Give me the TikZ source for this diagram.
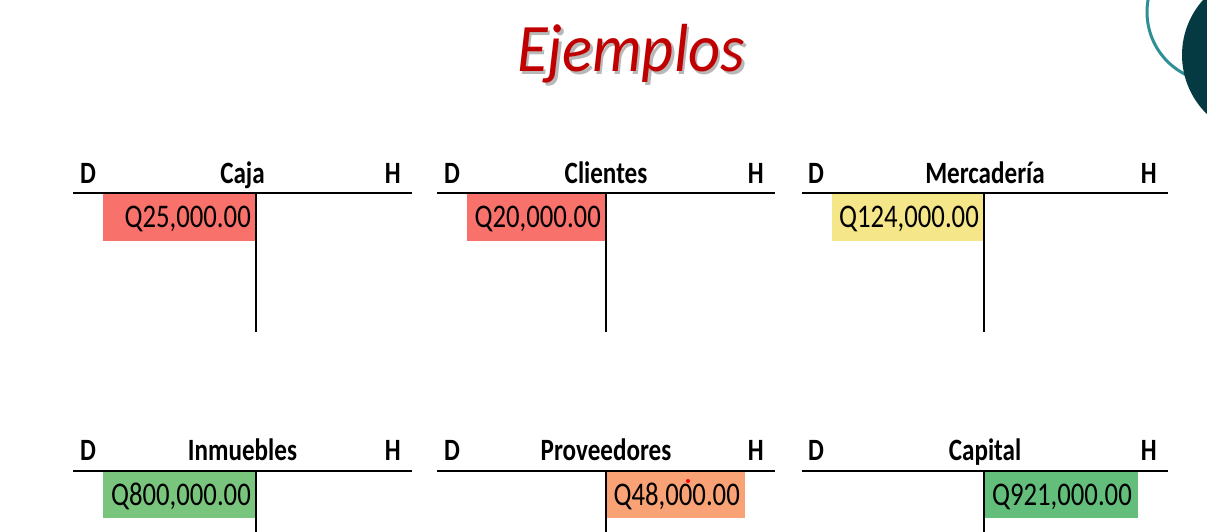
\documentclass[tikz,border=0pt]{standalone}
\usepackage{fontspec}
\setmainfont{Carlito}
% narrow Calibri-like faces for the ledger headings, amounts and title
\newfontfamily\headfont[FakeStretch=0.81]{Carlito}
\newfontfamily\amountfont[FakeStretch=0.81]{Carlito}
\newfontfamily\titlefont[FakeStretch=0.92]{Carlito}
\definecolor{titlered}{HTML}{C00000}
\definecolor{salmon}{HTML}{F8716B}
\definecolor{paleyellow}{HTML}{F6E68A}
\definecolor{softgreen}{HTML}{7AC57D}
\definecolor{midgreen}{HTML}{63BE7B}
\definecolor{peach}{HTML}{F8A276}
\definecolor{ringteal}{HTML}{2E8F96}
\definecolor{deepteal}{HTML}{053A42}
\definecolor{shadowgray}{HTML}{B8B8B8}
\begin{document}
\begin{tikzpicture}[x=1pt,y=-1pt,
  tline/.style={line width=2pt, black},
  hdr/.style={font=\headfont\bfseries\fontsize{31}{31}\selectfont, inner sep=0pt},
  amount/.style={font=\amountfont\fontsize{33}{33}\selectfont, inner sep=0pt, anchor=base east},
  debit/.style={hdr, anchor=base west},
  credit/.style={hdr, anchor=base east},
  acct/.style={hdr, anchor=base}]
\useasboundingbox (0,0) rectangle (1207,532);

% decorative circles in the upper right corner
\begin{scope}
  \clip (0,0) rectangle (1207,532);
  \draw[ringteal, line width=3pt] (1217,12) circle[radius=70];
  \fill[deepteal] (1264.5,55) circle[radius=82.5];
\end{scope}

% title, its drop shadow set behind it in the same box
\node[font=\titlefont\itshape\fontsize{68}{68}\selectfont, text=titlered, anchor=base, inner sep=0pt] (title) at (631,72)
  {\makebox[0pt][l]{\hspace{2.5pt}\raisebox{-3pt}{\textcolor{shadowgray}{Ejemplos}}}Ejemplos};

% ---------- first row ----------
% Caja
\fill[salmon] (103,194) rectangle (256,241);
\coordinate (cajaL) at (73,193); \coordinate (cajaR) at (412,193);
\coordinate (cajaT) at (256,193); \coordinate (cajaB) at (256,332);
\draw[tline] (cajaL) -- (cajaR); \draw[tline] (cajaT) -- (cajaB);
\node[debit] (cajaD) at (80,183) {D};
\node[acct] (caja) at (242.5,183) {Caja};
\node[credit] (cajaH) at (401,183) {H};
\node[amount] (cajaval) at (251,227) {Q25,000.00};

% Clientes
\fill[salmon] (467,194) rectangle (606,241);
\coordinate (cliL) at (437,193); \coordinate (cliR) at (775,193);
\coordinate (cliT) at (606,193); \coordinate (cliB) at (606,332);
\draw[tline] (cliL) -- (cliR); \draw[tline] (cliT) -- (cliB);
\node[debit] (cliD) at (444,183) {D};
\node[acct] (clientes) at (606,183) {Clientes};
\node[credit] (cliH) at (764,183) {H};
\node[amount] (clival) at (601,227) {Q20,000.00};

% Mercadería
\fill[paleyellow] (832,194) rectangle (984,241);
\coordinate (merL) at (802,193); \coordinate (merR) at (1168,193);
\coordinate (merT) at (984,193); \coordinate (merB) at (984,332);
\draw[tline] (merL) -- (merR); \draw[tline] (merT) -- (merB);
\node[debit] (merD) at (808,183) {D};
\node[acct] (mercaderia) at (985,183) {Mercadería};
\node[credit] (merH) at (1157,183) {H};
\node[amount] (merval) at (979,227) {Q124,000.00};

% ---------- second row ----------
% Inmuebles
\fill[softgreen] (103,472) rectangle (256,518);
\coordinate (inmL) at (73,471); \coordinate (inmR) at (412,471);
\coordinate (inmT) at (256,471); \coordinate (inmB) at (256,532);
\draw[tline] (inmL) -- (inmR); \draw[tline] (inmT) -- (inmB);
\node[debit] (inmD) at (80,460) {D};
\node[acct] (inmuebles) at (242.5,460) {Inmuebles};
\node[credit] (inmH) at (401,460) {H};
\node[amount] (inmval) at (251,505) {Q800,000.00};

% Proveedores
\fill[peach] (606,472) rectangle (745,518);
\coordinate (proL) at (437,471); \coordinate (proR) at (775,471);
\coordinate (proT) at (606,471); \coordinate (proB) at (606,532);
\draw[tline] (proL) -- (proR); \draw[tline] (proT) -- (proB);
\node[debit] (proD) at (444,460) {D};
\node[acct] (proveedores) at (606,460) {Proveedores};
\node[credit] (proH) at (764,460) {H};
\node[amount] (proval) at (740,505) {Q48,000.00};
\fill[red] (688,481) circle[radius=2];

% Capital
\fill[midgreen] (984,472) rectangle (1138,518);
\coordinate (capL) at (802,471); \coordinate (capR) at (1168,471);
\coordinate (capT) at (984,471); \coordinate (capB) at (984,532);
\draw[tline] (capL) -- (capR); \draw[tline] (capT) -- (capB);
\node[debit] (capD) at (808,460) {D};
\node[acct] (capital) at (985,460) {Capital};
\node[credit] (capH) at (1157,460) {H};
\node[amount] (capval) at (1132,505) {Q921,000.00};
\end{tikzpicture}
\end{document}
